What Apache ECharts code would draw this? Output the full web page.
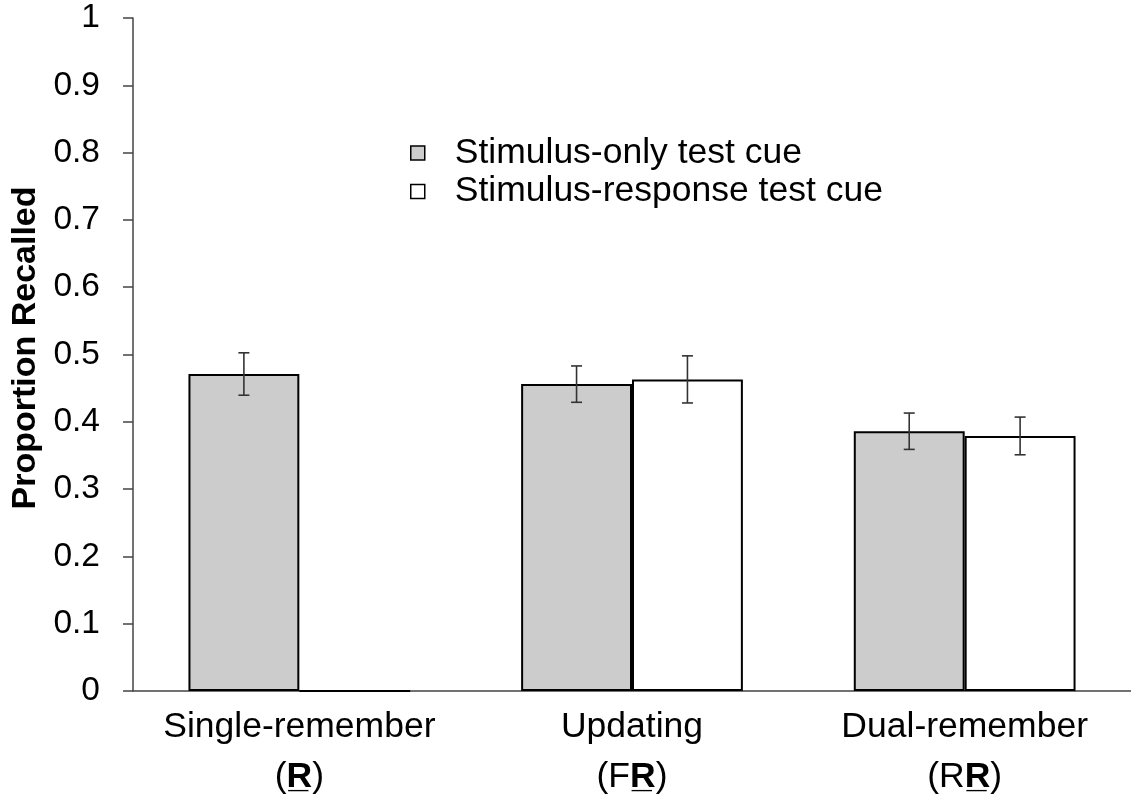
<!DOCTYPE html>
<html>
<head>
<meta charset="utf-8">
<script src="https://cdn.jsdelivr.net/npm/echarts@6/dist/echarts.min.js"></script>
<style>
html,body{margin:0;padding:0;background:#fff;}
#chart{width:1131px;height:799px;}
</style>
</head>
<body>
<div id="chart"></div>
<script>
const categories = ['Single-remember', 'Updating', 'Dual-remember'];
const categoryCodes = [['', 'R'], ['F', 'R'], ['R', 'R']];
const seriesNames = ['Stimulus-only test cue', 'Stimulus-response test cue'];
const stimulusOnly = [0.471, 0.456, 0.386];
const stimulusResponse = [0, 0.463, 0.379];
const stimulusOnlyErr = [0.0315, 0.027, 0.027];
const stimulusResponseErr = [null, 0.035, 0.028];
const yTicks = [0, 1, 0.1];

const FONT = 'Liberation Sans, Arial, sans-serif';
const chart = echarts.init(document.getElementById('chart'));

function errorSeries(values, errs, sign, name) {
  const data = values.map((v, i) => errs[i] == null ? null : [i, v, errs[i]]).filter(d => d);
  return {
    type: 'custom',
    name: name + ' error',
    silent: true,
    z: 10,
    data: data,
    renderItem: function (params, api) {
      const idx = api.value(0);
      const v = api.value(1);
      const e = api.value(2);
      const band = api.size([1, 0])[0];
      const c = api.coord([idx, v]);
      const x = c[0] + sign * band / 6;
      const yTop = api.coord([idx, v + e])[1];
      const yBot = api.coord([idx, v - e])[1];
      const cap = 5.5;
      const style = { stroke: '#333', lineWidth: 1.6, fill: null };
      return {
        type: 'group',
        children: [
          { type: 'line', shape: { x1: x, y1: yTop, x2: x, y2: yBot }, style: style },
          { type: 'line', shape: { x1: x - cap, y1: yTop, x2: x + cap, y2: yTop }, style: style },
          { type: 'line', shape: { x1: x - cap, y1: yBot, x2: x + cap, y2: yBot }, style: style }
        ]
      };
    }
  };
}

const option = {
  backgroundColor: '#fff',
  animation: false,
  grid: { left: 133, right: 0, top: 18, bottom: 108, containLabel: false },
  legend: {
    orient: 'vertical',
    left: 405,
    top: 130,
    itemWidth: 14,
    itemHeight: 14,
    itemGap: 2.5,
    icon: 'rect',
    data: [
      { name: seriesNames[0], itemStyle: { color: '#cccccc', borderColor: '#000', borderWidth: 1.5 } },
      { name: seriesNames[1], itemStyle: { color: '#ffffff', borderColor: '#000', borderWidth: 1.5 } }
    ],
    textStyle: { fontFamily: FONT, fontSize: 35.5, color: '#000', lineHeight: 34, padding: [0, 0, 0, 25] }
  },
  xAxis: {
    type: 'category',
    data: categories,
    axisLine: { lineStyle: { color: '#444', width: 1.5 } },
    axisTick: { show: false },
    axisLabel: {
      margin: 11,
      interval: 0,
      formatter: function (val, i) {
        const code = categoryCodes[i];
        return '{a|' + val + '}\n{a|(' + code[0] + '}{b|' + code[1] + '\u0332}{a|)}';
      },
      rich: {
        a: { fontFamily: FONT, fontSize: 35.5, color: '#000', lineHeight: 50 },
        b: { fontFamily: FONT, fontSize: 35.5, color: '#000', fontWeight: 'bold', lineHeight: 50 }
      }
    }
  },
  yAxis: {
    type: 'value',
    min: yTicks[0],
    max: yTicks[1],
    interval: yTicks[2],
    name: 'Proportion Recalled',
    nameLocation: 'middle',
    nameGap: 88,
    nameTextStyle: { fontFamily: FONT, fontSize: 34, fontWeight: 'bold', color: '#000', padding: [0, 0, 0, 13] },
    axisLine: { show: true, lineStyle: { color: '#444', width: 1.5 } },
    axisTick: { show: true, length: 10, lineStyle: { color: '#444', width: 1.5 } },
    axisLabel: { margin: 33, fontFamily: FONT, fontSize: 33.5, color: '#000' },
    splitLine: { show: false }
  },
  series: [
    {
      name: seriesNames[0],
      type: 'bar',
      data: stimulusOnly,
      barWidth: '33.33%',
      barGap: '0%',
      itemStyle: { color: '#cccccc', borderColor: '#000', borderWidth: 2 }
    },
    {
      name: seriesNames[1],
      type: 'bar',
      data: stimulusResponse,
      barWidth: '33.33%',
      barGap: '0%',
      itemStyle: { color: '#ffffff', borderColor: '#000', borderWidth: 2 }
    },
    errorSeries(stimulusOnly, stimulusOnlyErr, -1, seriesNames[0]),
    errorSeries(stimulusResponse, stimulusResponseErr, 1, seriesNames[1])
  ]
};
chart.setOption(option);
</script>
</body>
</html>
